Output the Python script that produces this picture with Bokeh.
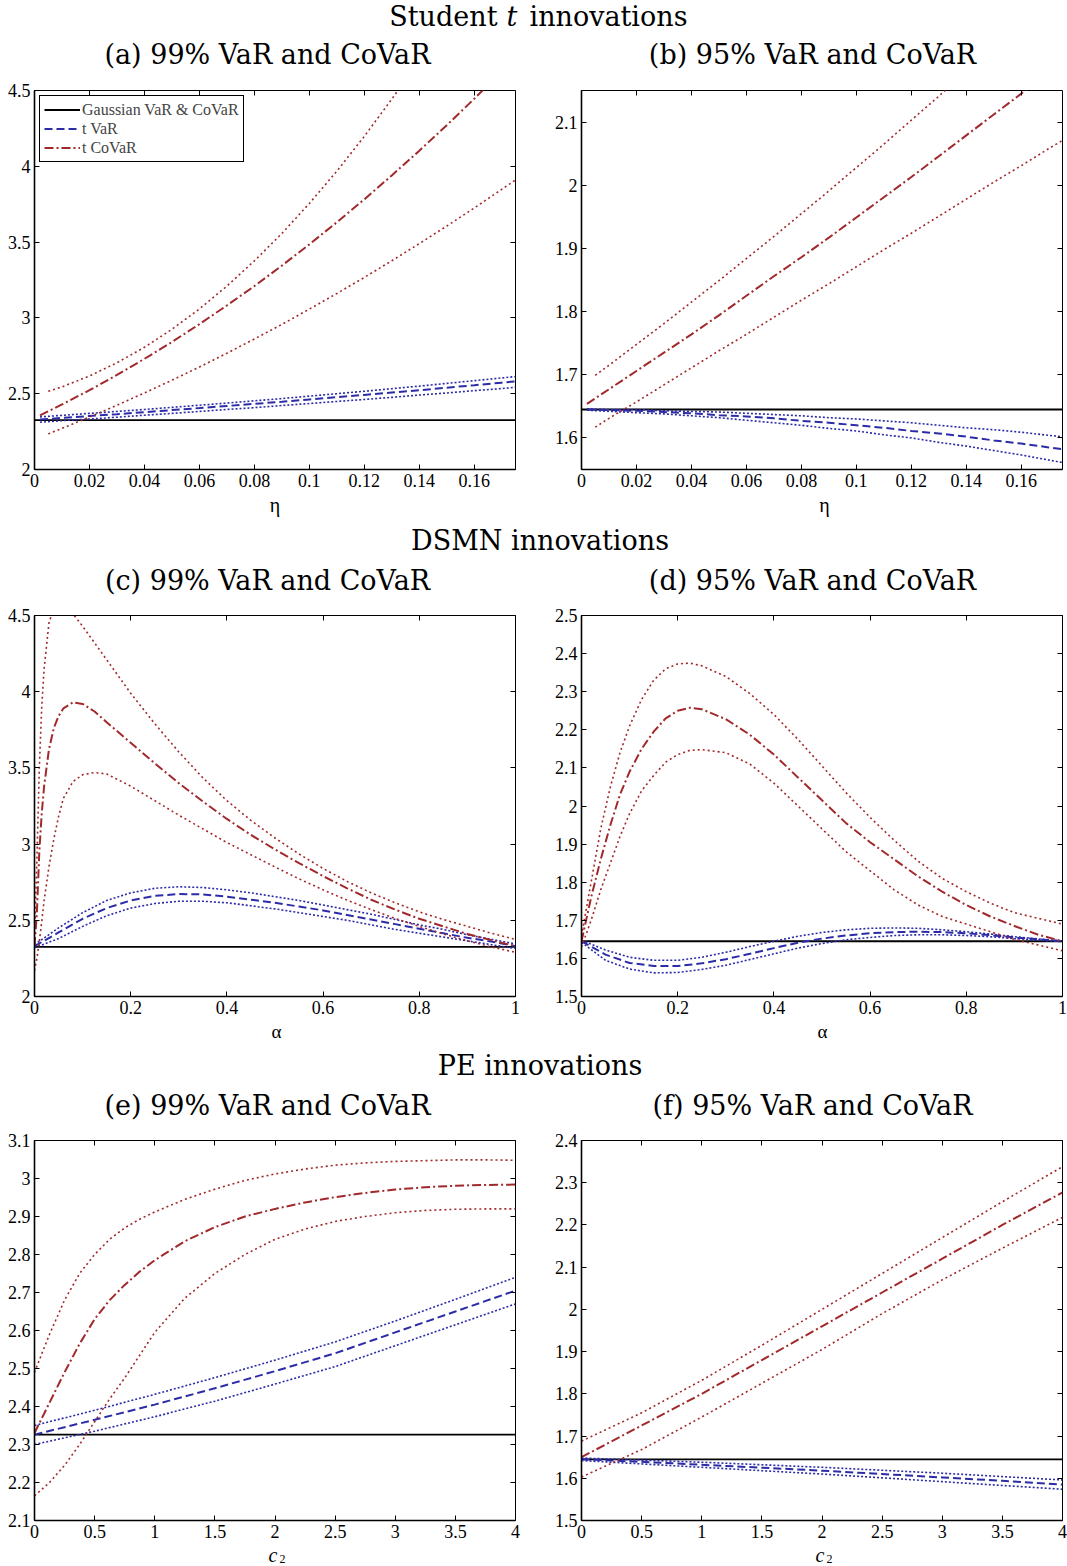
from bokeh.plotting import figure
from bokeh.models import Range1d, Label, LinearAxis, FixedTicker, Legend, LegendItem
from bokeh.layouts import column, row
from bokeh.embed import file_html
from bokeh.resources import INLINE

# ---------------- data ----------------
gauss_99 = 2.326
gauss_95 = 1.645

# Student t panels (a), (b)
eta = [0.002, 0.01, 0.02, 0.03, 0.04, 0.05, 0.06, 0.07, 0.08, 0.09, 0.10,
       0.11, 0.12, 0.13, 0.14, 0.15, 0.16, 0.17, 0.175]
eta_band = [0.005, 0.01, 0.02, 0.03, 0.04, 0.05, 0.06, 0.07, 0.08, 0.09, 0.10,
            0.11, 0.12, 0.13, 0.14, 0.15, 0.16, 0.17, 0.175]

a_var = [2.330, 2.340, 2.353, 2.365, 2.378, 2.392, 2.405, 2.419, 2.433, 2.447, 2.462,
         2.477, 2.492, 2.508, 2.523, 2.540, 2.556, 2.573, 2.581]
a_var_hi = [2.347, 2.357, 2.370, 2.383, 2.396, 2.410, 2.424, 2.438, 2.453, 2.468, 2.484,
            2.500, 2.516, 2.533, 2.550, 2.568, 2.586, 2.604, 2.613]
a_var_lo = [2.312, 2.322, 2.333, 2.345, 2.358, 2.370, 2.383, 2.396, 2.408, 2.422, 2.435,
            2.449, 2.462, 2.476, 2.491, 2.505, 2.520, 2.534, 2.542]
a_covar = [2.357, 2.429, 2.523, 2.624, 2.730, 2.841, 2.959, 3.082, 3.210, 3.345, 3.485,
           3.631, 3.782, 3.940, 4.103, 4.271, 4.446, 4.626, 4.718]
a_covar_hi = [2.516, 2.545, 2.617, 2.704, 2.806, 2.925, 3.059, 3.210, 3.376, 3.557, 3.755,
              3.968, 4.198, 4.443, 4.703, 4.980, 5.270, 5.570, 5.720]
a_covar_lo = [2.235, 2.271, 2.346, 2.424, 2.505, 2.589, 2.676, 2.767, 2.861, 2.957, 3.058,
              3.161, 3.267, 3.377, 3.490, 3.606, 3.725, 3.848, 3.910]

b_var = [1.645, 1.644, 1.643, 1.641, 1.639, 1.636, 1.634, 1.631, 1.627, 1.624, 1.620,
         1.616, 1.611, 1.607, 1.602, 1.596, 1.591, 1.585, 1.582]
b_var_hi = [1.646, 1.645, 1.645, 1.643, 1.642, 1.641, 1.639, 1.637, 1.635, 1.632, 1.630,
            1.627, 1.624, 1.620, 1.616, 1.613, 1.609, 1.604, 1.602]
b_var_lo = [1.644, 1.642, 1.640, 1.638, 1.635, 1.632, 1.628, 1.624, 1.620, 1.615, 1.611,
            1.605, 1.600, 1.593, 1.587, 1.580, 1.573, 1.565, 1.561]
b_covar = [1.654, 1.677, 1.706, 1.735, 1.764, 1.794, 1.825, 1.856, 1.886, 1.917, 1.949,
           1.981, 2.013, 2.046, 2.079, 2.112, 2.145, 2.179, 2.197]
b_covar_hi = [1.699, 1.715, 1.748, 1.781, 1.815, 1.849, 1.884, 1.919, 1.955, 1.991, 2.028,
              2.065, 2.103, 2.141, 2.180, 2.219, 2.259, 2.300, 2.320]
b_covar_lo = [1.617, 1.631, 1.657, 1.684, 1.711, 1.738, 1.764, 1.791, 1.818, 1.844, 1.871,
              1.898, 1.924, 1.951, 1.978, 2.005, 2.031, 2.058, 2.071]

# DSMN panels (c), (d)
alpha_var = [0.0, 0.05, 0.1, 0.15, 0.2, 0.25, 0.3, 0.35, 0.4, 0.45, 0.5,
             0.55, 0.6, 0.65, 0.7, 0.75, 0.8, 0.85, 0.9, 0.95, 1.0]
alpha_c = [0.0, 0.005, 0.01, 0.015, 0.02, 0.03, 0.04, 0.05, 0.06, 0.08, 0.1, 0.125,
           0.15, 0.2, 0.25, 0.3, 0.35, 0.4, 0.45, 0.5, 0.55, 0.6, 0.65, 0.7, 0.75,
           0.8, 0.85, 0.9, 0.95, 1.0]
c_var = [2.33, 2.42, 2.51, 2.58, 2.63, 2.66, 2.672, 2.67, 2.655, 2.635, 2.615,
         2.59, 2.565, 2.535, 2.505, 2.475, 2.445, 2.415, 2.385, 2.36, 2.33]
c_var_hi = [2.34, 2.45, 2.55, 2.63, 2.68, 2.71, 2.72, 2.715, 2.70, 2.68, 2.655,
            2.63, 2.60, 2.57, 2.54, 2.505, 2.47, 2.44, 2.405, 2.375, 2.345]
c_var_lo = [2.32, 2.38, 2.46, 2.53, 2.58, 2.61, 2.625, 2.625, 2.615, 2.595, 2.575,
            2.55, 2.525, 2.50, 2.47, 2.44, 2.415, 2.39, 2.365, 2.34, 2.315]
c_covar = [2.33, 2.55, 2.95, 3.2, 3.38, 3.62, 3.76, 3.84, 3.89, 3.93, 3.92, 3.87,
           3.80, 3.665, 3.53, 3.40, 3.28, 3.165, 3.06, 2.965, 2.875, 2.79, 2.71, 2.635,
           2.57, 2.51, 2.46, 2.41, 2.37, 2.33]
c_covar_hi = [2.38, 2.9, 3.5, 3.9, 4.15, 4.45, 4.55, 4.58, 4.58, 4.51, 4.43, 4.32,
              4.21, 3.99, 3.79, 3.605, 3.435, 3.285, 3.155, 3.04, 2.935, 2.84, 2.755, 2.68,
              2.615, 2.555, 2.505, 2.46, 2.415, 2.375]
c_covar_lo = [2.17, 2.25, 2.36, 2.49, 2.63, 2.85, 3.03, 3.18, 3.30, 3.41, 3.455, 3.47,
              3.46, 3.38, 3.285, 3.19, 3.10, 3.01, 2.93, 2.85, 2.772, 2.70, 2.632, 2.57,
              2.512, 2.46, 2.41, 2.366, 2.325, 2.29]

alpha_d = [0.0, 0.02, 0.04, 0.06, 0.08, 0.1, 0.125, 0.15, 0.175, 0.2, 0.225, 0.25,
           0.3, 0.35, 0.4, 0.45, 0.5, 0.55, 0.6, 0.65, 0.7, 0.75, 0.8, 0.85, 0.9,
           0.95, 1.0]
d_var = [1.645, 1.61, 1.588, 1.58, 1.58, 1.587, 1.598, 1.612, 1.627, 1.641, 1.652,
         1.66, 1.666, 1.669, 1.67, 1.669, 1.666, 1.661, 1.655, 1.65, 1.645]
d_var_hi = [1.648, 1.622, 1.603, 1.595, 1.595, 1.603, 1.616, 1.631, 1.645, 1.658, 1.668,
            1.675, 1.679, 1.68, 1.679, 1.675, 1.67, 1.664, 1.657, 1.651, 1.646]
d_var_lo = [1.642, 1.595, 1.572, 1.562, 1.563, 1.571, 1.582, 1.597, 1.612, 1.627, 1.639,
            1.649, 1.655, 1.66, 1.662, 1.662, 1.66, 1.657, 1.652, 1.648, 1.644]
d_covar = [1.645, 1.76, 1.86, 1.95, 2.03, 2.09, 2.15, 2.195, 2.23, 2.25, 2.258, 2.254,
           2.228, 2.187, 2.135, 2.075, 2.015, 1.955, 1.905, 1.86, 1.815, 1.775, 1.74, 1.71,
           1.685, 1.662, 1.645]
d_covar_hi = [1.66, 1.80, 1.94, 2.05, 2.14, 2.21, 2.28, 2.33, 2.36, 2.373, 2.375, 2.368,
              2.34, 2.295, 2.24, 2.175, 2.105, 2.035, 1.97, 1.91, 1.855, 1.81, 1.775, 1.745,
              1.72, 1.705, 1.69]
d_covar_lo = [1.63, 1.70, 1.78, 1.85, 1.92, 1.98, 2.04, 2.08, 2.115, 2.135, 2.146, 2.148,
              2.14, 2.11, 2.06, 2.0, 1.94, 1.88, 1.83, 1.78, 1.74, 1.71, 1.69, 1.67,
              1.65, 1.635, 1.62]

# PE panels (e), (f)
c2_var = [0.0, 0.5, 1.0, 1.5, 2.0, 2.5, 3.0, 3.5, 4.0]
c2_covar = [0.0, 0.125, 0.25, 0.375, 0.5, 0.625, 0.75, 0.875, 1.0, 1.25, 1.5, 1.75,
            2.0, 2.25, 2.5, 2.75, 3.0, 3.25, 3.5, 3.75, 4.0]
e_var = [2.326, 2.365, 2.405, 2.448, 2.493, 2.54, 2.595, 2.65, 2.705]
e_var_hi = [2.35, 2.39, 2.432, 2.476, 2.522, 2.57, 2.625, 2.682, 2.74]
e_var_lo = [2.30, 2.335, 2.373, 2.414, 2.459, 2.505, 2.56, 2.615, 2.67]
e_covar = [2.33, 2.41, 2.49, 2.565, 2.63, 2.68, 2.72, 2.755, 2.785, 2.835, 2.872, 2.9,
           2.92, 2.937, 2.951, 2.962, 2.971, 2.977, 2.981, 2.983, 2.984]
e_covar_hi = [2.49, 2.59, 2.68, 2.75, 2.80, 2.84, 2.87, 2.893, 2.912, 2.945, 2.972, 2.995,
              3.012, 3.025, 3.035, 3.041, 3.045, 3.047, 3.049, 3.049, 3.048]
e_covar_lo = [2.165, 2.20, 2.245, 2.30, 2.36, 2.42, 2.475, 2.535, 2.595, 2.685, 2.75, 2.80,
              2.84, 2.867, 2.887, 2.90, 2.91, 2.916, 2.919, 2.92, 2.92]
f_var = [1.645, 1.639, 1.632, 1.625, 1.618, 1.61, 1.602, 1.594, 1.585]
f_var_hi = [1.648, 1.643, 1.638, 1.632, 1.626, 1.619, 1.612, 1.604, 1.596]
f_var_lo = [1.642, 1.634, 1.626, 1.618, 1.61, 1.601, 1.592, 1.583, 1.574]
f_covar = [1.65, 1.725, 1.80, 1.88, 1.96, 2.04, 2.12, 2.20, 2.277]
f_covar_hi = [1.688, 1.755, 1.832, 1.915, 2.0, 2.085, 2.17, 2.255, 2.338]
f_covar_lo = [1.603, 1.668, 1.745, 1.825, 1.905, 1.99, 2.07, 2.145, 2.218]

# ticks
xt_eta = [0, 0.02, 0.04, 0.06, 0.08, 0.1, 0.12, 0.14, 0.16]
xl_eta = ["0", "0.02", "0.04", "0.06", "0.08", "0.1", "0.12", "0.14", "0.16"]
xt_alpha = [0, 0.2, 0.4, 0.6, 0.8, 1]
xl_alpha = ["0", "0.2", "0.4", "0.6", "0.8", "1"]
xt_c2 = [0, 0.5, 1, 1.5, 2, 2.5, 3, 3.5, 4]
xl_c2 = ["0", "0.5", "1", "1.5", "2", "2.5", "3", "3.5", "4"]
yt_a = [2, 2.5, 3, 3.5, 4, 4.5]
yl_a = ["2", "2.5", "3", "3.5", "4", "4.5"]
yt_b = [1.6, 1.7, 1.8, 1.9, 2, 2.1]
yl_b = ["1.6", "1.7", "1.8", "1.9", "2", "2.1"]
yt_d = [1.5, 1.6, 1.7, 1.8, 1.9, 2, 2.1, 2.2, 2.3, 2.4, 2.5]
yl_d = ["1.5", "1.6", "1.7", "1.8", "1.9", "2", "2.1", "2.2", "2.3", "2.4", "2.5"]
yt_e = [2.1, 2.2, 2.3, 2.4, 2.5, 2.6, 2.7, 2.8, 2.9, 3, 3.1]
yl_e = ["2.1", "2.2", "2.3", "2.4", "2.5", "2.6", "2.7", "2.8", "2.9", "3", "3.1"]
yt_f = [1.5, 1.6, 1.7, 1.8, 1.9, 2, 2.1, 2.2, 2.3, 2.4]
yl_f = ["1.5", "1.6", "1.7", "1.8", "1.9", "2", "2.1", "2.2", "2.3", "2.4"]

# ---------------- style ----------------
BLUE = "#2C2CA8"
RED = "#A2292B"
TICK_FONT = "Liberation Serif"
TITLE_FONT = "DejaVu Serif"
TOTAL_W = 1067


def style_axis(ax, ticks, labels, show, standoff):
    ax.ticker = FixedTicker(ticks=ticks)
    ax.minor_tick_line_color = None
    ax.major_tick_in = 5
    ax.major_tick_out = 0
    ax.major_tick_line_color = "black"
    ax.major_tick_line_width = 1
    ax.major_label_standoff = standoff
    ax.axis_label = None
    if show:
        ax.major_label_overrides = {t: l for t, l in zip(ticks, labels)}
        ax.major_label_text_font = TICK_FONT
        ax.major_label_text_font_size = "18px"
        ax.major_label_text_color = "black"
    else:
        ax.major_label_text_font_size = "0px"
        ax.major_label_text_color = None


def panel(xlim, ylim, xt, xl, yt, yl, fh, left):
    if left:
        mbl, fw, mbr = 34, 481, 33
    else:
        mbl, fw, mbr = 33, 481, 5
    p = figure(frame_width=fw, frame_height=fh,
               min_border_left=mbl, min_border_right=mbr,
               min_border_top=8, min_border_bottom=24,
               x_range=Range1d(*xlim), y_range=Range1d(*ylim),
               output_backend="svg", toolbar_location=None,
               background_fill_color="white", border_fill_color="white")
    p.xgrid.visible = False
    p.ygrid.visible = False
    p.outline_line_color = "black"
    p.outline_line_width = 1
    style_axis(p.below[0], xt, xl, True, 4)
    style_axis(p.left[0], yt, yl, True, 4)
    p.below[0].axis_line_width = 1.6
    p.left[0].axis_line_width = 1.6
    top = LinearAxis()
    style_axis(top, xt, xl, False, 0)
    top.axis_line_color = None
    right = LinearAxis()
    style_axis(right, yt, yl, False, 0)
    right.axis_line_color = None
    p.add_layout(top, "above")
    p.add_layout(right, "right")
    return p


def draw(p, xlim, gauss, xv, v, vhi, vlo, xc, c, xchi, chi, xclo, clo):
    rg = p.line(x=[xlim[0], xlim[1]], y=[gauss, gauss], line_color="black", line_width=1.8)
    p.line(x=xv, y=vhi, line_color=BLUE, line_dash="2 2", line_width=1.6)
    p.line(x=xv, y=vlo, line_color=BLUE, line_dash="2 2", line_width=1.6)
    rv = p.line(x=xv, y=v, line_color=BLUE, line_dash="8 4", line_width=2)
    p.line(x=xchi, y=chi, line_color=RED, line_dash="2 3", line_width=1.6)
    p.line(x=xclo, y=clo, line_color=RED, line_dash="2 3", line_width=1.6)
    rc = p.line(x=xc, y=c, line_color=RED, line_dash="9 3 2 3", line_width=2)
    return rg, rv, rc


xa = (0, 0.175)
pa = panel(xa, (2, 4.5), xt_eta, xl_eta, yt_a, yl_a, 379, True)
rg, rv, rc = draw(pa, xa, gauss_99, eta, a_var, a_var_hi, a_var_lo,
                  eta, a_covar, eta_band, a_covar_hi, eta_band, a_covar_lo)
legend = Legend(items=[LegendItem(label="Gaussian VaR & CoVaR", renderers=[rg]),
                       LegendItem(label="t VaR", renderers=[rv]),
                       LegendItem(label="t CoVaR", renderers=[rc])],
                location="top_left", margin=5, padding=4, spacing=0,
                glyph_width=36, glyph_height=19, label_height=19,
                label_standoff=2, label_text_font=TICK_FONT,
                label_text_font_size="16px", border_line_color="black",
                border_line_alpha=1.0, border_line_width=1.2,
                background_fill_alpha=1.0)
pa.add_layout(legend)

pb = panel(xa, (1.55, 2.15), xt_eta, xl_eta, yt_b, yl_b, 379, False)
draw(pb, xa, gauss_95, eta, b_var, b_var_hi, b_var_lo,
     eta, b_covar, eta_band, b_covar_hi, eta_band, b_covar_lo)

xc_ = (0, 1)
pc = panel(xc_, (2, 4.5), xt_alpha, xl_alpha, yt_a, yl_a, 381, True)
draw(pc, xc_, gauss_99, alpha_var, c_var, c_var_hi, c_var_lo,
     alpha_c, c_covar, alpha_c, c_covar_hi, alpha_c, c_covar_lo)
pd = panel(xc_, (1.5, 2.5), xt_alpha, xl_alpha, yt_d, yl_d, 381, False)
draw(pd, xc_, gauss_95, alpha_var, d_var, d_var_hi, d_var_lo,
     alpha_d, d_covar, alpha_d, d_covar_hi, alpha_d, d_covar_lo)

xe = (0, 4)
pe = panel(xe, (2.1, 3.1), xt_c2, xl_c2, yt_e, yl_e, 380, True)
draw(pe, xe, gauss_99, c2_var, e_var, e_var_hi, e_var_lo,
     c2_covar, e_covar, c2_covar, e_covar_hi, c2_covar, e_covar_lo)
pf = panel(xe, (1.5, 2.4), xt_c2, xl_c2, yt_f, yl_f, 380, False)
draw(pf, xe, gauss_95, c2_var, f_var, f_var_hi, f_var_lo,
     c2_var, f_covar, c2_var, f_covar_hi, c2_var, f_covar_lo)


def strip(h, items):
    s = figure(width=TOTAL_W, height=h, x_range=Range1d(0, TOTAL_W), y_range=Range1d(h, 0),
               min_border=0, toolbar_location=None, output_backend="svg",
               x_axis_location=None, y_axis_location=None, outline_line_color=None,
               background_fill_color="white", border_fill_color="white")
    s.xgrid.visible = False
    s.ygrid.visible = False
    for (x, y, txt, font, size, style, align) in items:
        s.add_layout(Label(x=x, y=y, text=txt, text_font=font, text_font_size=size,
                           text_font_style=style, text_align=align,
                           text_baseline="middle", text_color="black"))
    return s


def section(y_sec, y_sub, name, subs, extra=None):
    items = list(extra or [])
    if name == "Student":
        items += [(497, y_sec, "Student", TITLE_FONT, "27px", "normal", "right"),
                  (511.5, y_sec, "t", TITLE_FONT, "27px", "italic", "center"),
                  (529, y_sec, "innovations", TITLE_FONT, "27px", "normal", "left")]
    else:
        items += [(539.5, y_sec, name, TITLE_FONT, "27px", "normal", "center")]
    items += [(267, y_sub, subs[0], TITLE_FONT, "27px", "normal", "center"),
              (812, y_sub, subs[1], TITLE_FONT, "27px", "normal", "center")]
    return items


# strips: heights chosen so the frames sit where they sit in the reference
t1 = strip(82, section(16, 54, "Student", ["(a) 99% VaR and CoVaR", "(b) 95% VaR and CoVaR"]))
t2 = strip(114, section(47, 87, "DSMN innovations",
                        ["(c) 99% VaR and CoVaR", "(d) 95% VaR and CoVaR"],
                        extra=[(274.5, 11, "η", TICK_FONT, "20px", "normal", "center"),
                               (824, 11, "η", TICK_FONT, "20px", "normal", "center")]))
t3 = strip(112, section(45, 85, "PE innovations",
                        ["(e) 99% VaR and CoVaR", "(f) 95% VaR and CoVaR"],
                        extra=[(276, 11, "α", TICK_FONT, "19px", "normal", "center"),
                               (822, 11, "α", TICK_FONT, "19px", "normal", "center")]))
b = strip(21, [(272.5, 10, "c", TICK_FONT, "20px", "italic", "center"),
               (279, 14, "2", TICK_FONT, "12px", "normal", "left"),
               (819.5, 10, "c", TICK_FONT, "20px", "italic", "center"),
               (826, 14, "2", TICK_FONT, "12px", "normal", "left")])

layout = column(t1, row(pa, pb), t2, row(pc, pd), t3, row(pe, pf), b)

with open("out.html", "w") as fh:
    fh.write(file_html(layout, INLINE))
